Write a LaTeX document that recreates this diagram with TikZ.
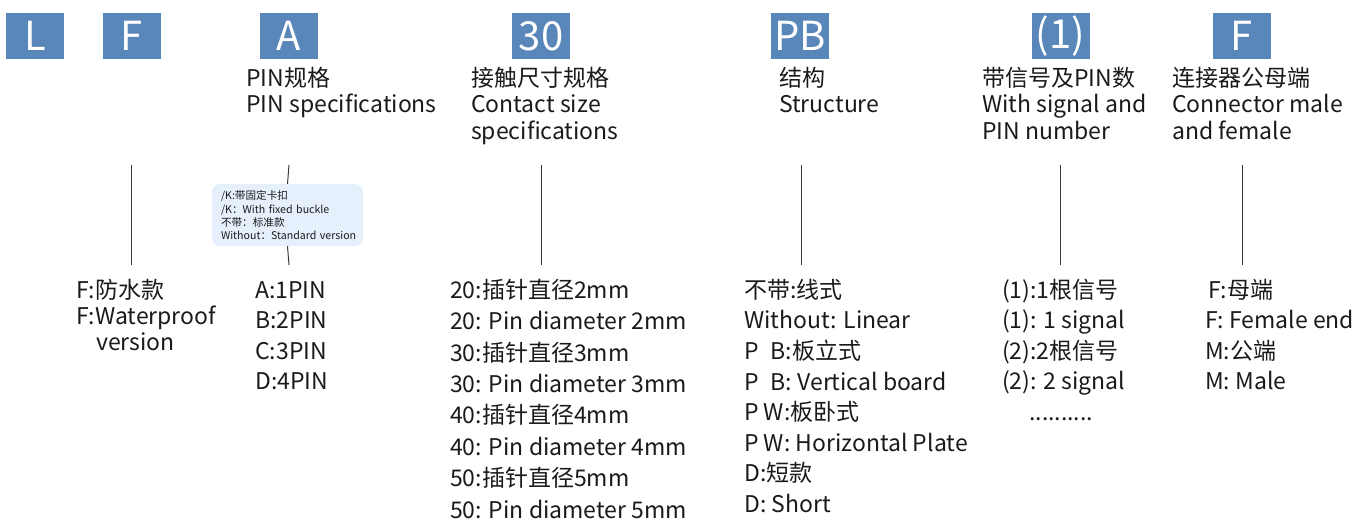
\documentclass[tikz,border=0pt]{standalone}
\usepackage{fontspec}
\setmainfont{Noto Sans CJK SC}
\definecolor{boxblue}{HTML}{5A87BA}
\definecolor{bubblefill}{HTML}{E6F0FC}
\definecolor{linegray}{HTML}{3A3A3A}
\definecolor{txt}{HTML}{1A1A1A}
\newcommand\tstrut{\rule{0pt}{22pt}}
\newcommand\sstrut{\rule{0pt}{10pt}}
\begin{document}
\begin{tikzpicture}[x=1pt,y=-1pt,
  codebox/.style={fill=boxblue,text=white,minimum width=58pt,minimum height=46pt,inner sep=0pt,font=\fontsize{40}{40}\selectfont},
  head/.style={anchor=north west,align=left,inner sep=0pt,text=txt,font=\fontsize{23}{26.7}\selectfont},
  opt/.style={anchor=north west,align=left,inner sep=0pt,text=txt,font=\fontsize{23}{#1}\selectfont},
  vline/.style={draw=linegray,line width=1pt},
  bubble/.style={fill=bubblefill,rounded corners=8pt,minimum width=151pt,minimum height=62pt,inner sep=0pt,text width=133pt,align=left,text=txt,font=\fontsize{10.6}{13.3}\selectfont}]
\useasboundingbox (0,0) rectangle (1359,520);
% code boxes
\node[codebox] (bL) at (35,36) {L};
\node[codebox] (bF) at (131.5,36) {F};
\node[codebox] (bA) at (289,36) {A};
\node[codebox] (b30) at (541,36) {30};
\node[codebox] (bPB) at (800,36) {PB};
\node[codebox] (b1) at (1060.5,36) {(1)};
\node[codebox] (bF2) at (1242,36) {F};
% headings
\node[head] (hA) at (246,64) {\tstrut PIN规格\\PIN specifications};
\node[head] (h30) at (471,64) {\tstrut 接触尺寸规格\\Contact size\\specifications};
\node[head] (hPB) at (779,64) {\tstrut 结构\\Structure};
\node[head] (h1) at (982,64) {\tstrut 带信号及PIN数\\With signal and\\PIN number};
\node[head] (hF2) at (1172,64) {\tstrut 连接器公母端\\Connector male\\and female};
% bubble
\node[bubble] (bub) at (287.5,215) {\sstrut/K:带固定卡扣\\\mbox{/K：With fixed buckle}\\不带：标准款\\\mbox{Without：Standard version}};
% line coordinates
\coordinate (tF) at (131,165); \coordinate (eF) at (131,265);
\coordinate (tA) at (289,165); \coordinate (eA) at (289,265);
\coordinate (t30) at (541,165); \coordinate (e30) at (541,265);
\coordinate (tPB) at (801,165); \coordinate (ePB) at (801,265);
\coordinate (t1) at (1060,165); \coordinate (e1) at (1060,265);
\coordinate (tF2) at (1242,165); \coordinate (eF2) at (1242,265);
\draw[vline] (tF) -- (eF);
\draw[vline] (tA) -- (bub.north);
\draw[vline] (bub.south) -- (eA);
\draw[vline] (t30) -- (e30);
\draw[vline] (tPB) -- (ePB);
\draw[vline] (t1) -- (e1);
\draw[vline] (tF2) -- (eF2);
% options
\node[opt=26] (oF) at (76,276) {\tstrut F:防水款\\F:Waterproof\\\hspace*{20pt}version};
\node[opt=30.5] (oA) at (255,276) {\tstrut A:1PIN\\B:2PIN\\C:3PIN\\D:4PIN};
\node[opt=31.4] (o30) at (450,276) {\tstrut 20:插针直径2mm\\20: Pin diameter 2mm\\30:插针直径3mm\\30: Pin diameter 3mm\\40:插针直径4mm\\40: Pin diameter 4mm\\50:插针直径5mm\\50: Pin diameter 5mm};
\node[opt=30.6] (oPB) at (744,276) {\tstrut 不带:线式\\Without: Linear\\P\hspace{12pt}B:板立式\\P\hspace{12pt}B: Vertical board\\P W:板卧式\\P W: Horizontal Plate\\D:短款\\D: Short};
\node[opt=30.5] (o1) at (1002,276) {\tstrut (1):1根信号\\(1): 1 signal\\(2):2根信号\\(2): 2 signal\\\hspace*{27pt}..........};
\node[opt=30.5] (oF2) at (1205,276) {\tstrut \hspace*{3pt}F:母端\\F: Female end\\M:公端\\M: Male};
\end{tikzpicture}
\end{document}
